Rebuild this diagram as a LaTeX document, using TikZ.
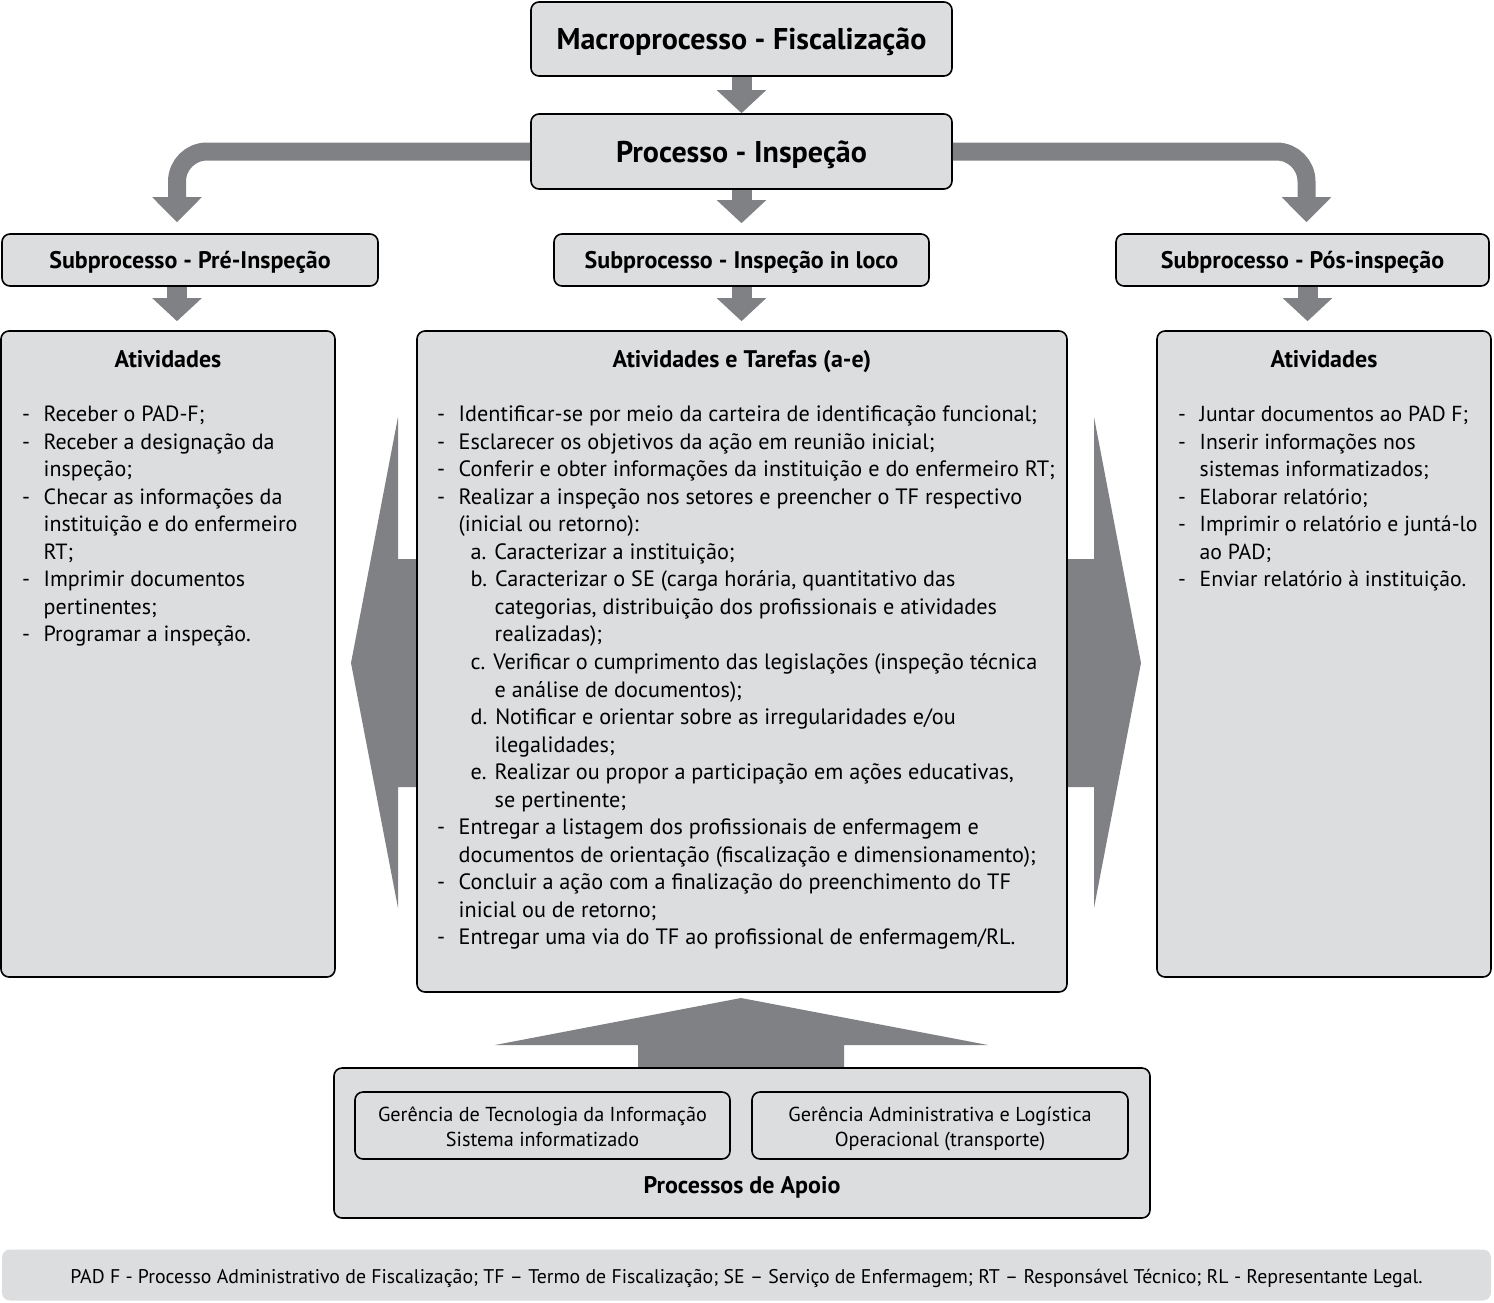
\documentclass[tikz,border=0pt]{standalone}
\usepackage{fontspec}
\setmainfont{PT Sans}
\usetikzlibrary{arrows.meta}
\definecolor{boxgray}{HTML}{DCDDDF}
\definecolor{arrgray}{HTML}{808184}
\newcommand\itm{\makebox[21.5pt][l]{-}}
\newcommand\cnt{\hspace*{21.5pt}}
\tikzset{
  box/.style={draw=black, line width=1.6pt, fill=boxgray, rounded corners=8pt, inner sep=0pt},
  fat/.style={draw=arrgray, line width=20pt, -{Triangle[width=48pt,length=23pt]}},
  bentarrow/.style={draw=arrgray, line width=18pt, rounded corners=30pt, -{Triangle[width=48pt,length=25pt]}},
  bigarr/.style={fill=arrgray},
  txt/.style={inner sep=0pt, anchor=base west},
  ttl/.style={font=\bfseries\fontsize{24}{28}\selectfont, text height=16.8pt, text depth=0pt},
  bigttl/.style={font=\bfseries\fontsize{30}{34}\selectfont, text height=21pt, text depth=0pt},
  small/.style={inner sep=0pt, align=center, font=\fontsize{20.2}{25}\selectfont},
}
\begin{document}
\begin{tikzpicture}[x=1pt,y=-1pt]
\useasboundingbox (0,0) rectangle (1494,1302);
% big side arrows
\fill[bigarr] (420,559) -- (398,559) -- (398,417) -- (351,663) -- (398,908) -- (398,787) -- (420,787) -- cycle;
\fill[bigarr] (1064,559) -- (1094,559) -- (1094,417) -- (1141,663) -- (1094,908) -- (1094,787) -- (1064,787) -- cycle;
% bottom arrow
\fill[bigarr] (638,1070) -- (638,1045) -- (495,1045) -- (741,998) -- (988,1045) -- (844,1045) -- (844,1070) -- cycle;

\node[box, bigttl, minimum width=421pt, minimum height=74pt] (macro) at (741.5,39) {Macroprocesso - Fiscalização};
\node[box, bigttl, minimum width=421pt, minimum height=75pt] (proc) at (741.5,151.5) {Processo - Inspeção};
\node[box, ttl, minimum width=376pt, minimum height=52pt] (pre) at (190,260) {Subprocesso - Pré-Inspeção};
\node[box, ttl, minimum width=375pt, minimum height=52pt] (loco) at (741.5,260) {Subprocesso - Inspeção in loco};
\node[box, ttl, minimum width=373pt, minimum height=52pt] (pos) at (1302.5,260) {Subprocesso - Pós-inspeção};

\node[box, minimum width=334pt, minimum height=646pt] (actL) at (168,654) {};
\node[box, minimum width=650pt, minimum height=661pt] (actM) at (742,661.5) {};
\node[box, minimum width=334pt, minimum height=646pt] (actR) at (1324,654) {};

\draw[fat] (macro.south) -- (proc.north);
\draw[fat, shorten >=10pt] (proc.south) -- (loco.north);
\draw[bentarrow, shorten >=11pt] (proc.west) -| ([xshift=-13pt]pre.north);
\draw[bentarrow, shorten >=11pt] (proc.east) -| ([xshift=4pt]pos.north);
\draw[fat, shorten >=9pt] ([xshift=-13pt]pre.south) -- ([xshift=9pt]actL.north);
\draw[fat, shorten >=9pt] (loco.south) -- (loco.south |- actM.north);
\draw[fat, shorten >=9pt] ([xshift=5pt]pos.south) -- ([xshift=5pt]pos.south |- actR.north);

\node[ttl, inner sep=0pt] (tL) at (168,359) {Atividades};
\node[ttl, inner sep=0pt] (tM) at (742,359) {Atividades e Tarefas (a-e)};
\node[ttl, inner sep=0pt] (tR) at (1324,359) {Atividades};

\node[txt, font=\fontsize{22}{27.55}\selectfont] (lL) at (22,421.5) {\parbox[t]{310pt}{%
\itm Receber o PAD-F;\\
\itm Receber a designação da\\
\cnt inspeção;\\
\itm Checar as informações da\\
\cnt instituição e do enfermeiro\\
\cnt RT;\\
\itm Imprimir documentos\\
\cnt pertinentes;\\
\itm Programar a inspeção.}};

\node[txt, font=\fontsize{22.2}{27.55}\selectfont] (lM) at (437,421.5) {\parbox[t]{640pt}{%
\itm Identificar-se por meio da carteira de identificação funcional;\\
\itm Esclarecer os objetivos da ação em reunião inicial;\\
\itm Conferir e obter informações da instituição e do enfermeiro RT;\\
\itm Realizar a inspeção nos setores e preencher o TF respectivo\\
\cnt (inicial ou retorno):\\
\cnt\hspace*{12pt}a. Caracterizar a instituição;\\
\cnt\hspace*{12pt}b. Caracterizar o SE (carga horária, quantitativo das\\
\cnt\hspace*{36pt}categorias, distribuição dos profissionais e atividades\\
\cnt\hspace*{36pt}realizadas);\\
\cnt\hspace*{12pt}c. Verificar o cumprimento das legislações (inspeção técnica\\
\cnt\hspace*{36pt}e análise de documentos);\\
\cnt\hspace*{12pt}d. Notificar e orientar sobre as irregularidades e/ou\\
\cnt\hspace*{36pt}ilegalidades;\\
\cnt\hspace*{12pt}e. Realizar ou propor a participação em ações educativas,\\
\cnt\hspace*{36pt}se pertinente;\\
\itm Entregar a listagem dos profissionais de enfermagem e\\
\cnt documentos de orientação (fiscalização e dimensionamento);\\
\itm Concluir a ação com a finalização do preenchimento do TF\\
\cnt inicial ou de retorno;\\
\itm Entregar uma via do TF ao profissional de enfermagem/RL.}};

\node[txt, font=\fontsize{21.7}{27.55}\selectfont] (lR) at (1178,421.5) {\parbox[t]{310pt}{%
\itm Juntar documentos ao PAD F;\\
\itm Inserir informações nos\\
\cnt sistemas informatizados;\\
\itm Elaborar relatório;\\
\itm Imprimir o relatório e juntá-lo\\
\cnt ao PAD;\\
\itm Enviar relatório à instituição.}};

% support processes
\node[box, minimum width=816pt, minimum height=150pt] (apoio) at (742,1143) {};
\node[box, minimum width=375pt, minimum height=67pt] (ti) at (542.5,1125.5) {};
\node[box, minimum width=376pt, minimum height=67pt] (adm) at (940,1125.5) {};
\node[small, yshift=-3pt] (titxt) at (ti.center) {Gerência de Tecnologia da Informação\strut\\Sistema informatizado\strut};
\node[small, yshift=-3pt] (admtxt) at (adm.center) {Gerência Administrativa e Logística\strut\\Operacional (transporte)\strut};
\node[inner sep=0pt, ttl] (apt) at (742,1185) {Processos de Apoio};

% footer
\node[fill=boxgray, rounded corners=8pt, minimum width=1489pt, minimum height=51pt, inner sep=0pt] (foot) at (746.5,1275) {};
\node[inner sep=0pt, text height=13.9pt, text depth=0pt, font=\fontsize{19.8}{22}\selectfont] (foottxt) at (746.5,1277) {PAD F - Processo Administrativo de Fiscalização; TF – Termo de Fiscalização; SE – Serviço de Enfermagem; RT – Responsável Técnico; RL - Representante Legal.};
\end{tikzpicture}
\end{document}
